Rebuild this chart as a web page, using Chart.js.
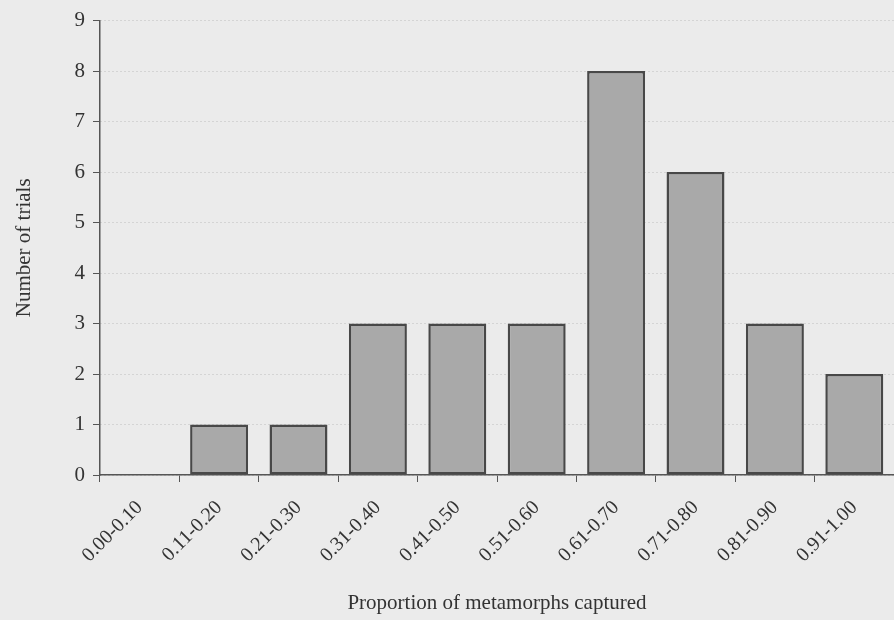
<!DOCTYPE html>
<html>
<head>
<meta charset="utf-8">
<script src="https://cdn.jsdelivr.net/npm/chart.js@4"></script>
<style>
  body { margin: 0; background: #ebebeb; }
  canvas { display: block; }
</style>
</head>
<body>
<canvas id="trials-chart" width="894" height="620"></canvas>
<script>
// Data
const categories = ["0.00-0.10", "0.11-0.20", "0.21-0.30", "0.31-0.40", "0.41-0.50",
  "0.51-0.60", "0.61-0.70", "0.71-0.80", "0.81-0.90", "0.91-1.00"];
const trials = [0, 1, 1, 3, 3, 3, 8, 6, 3, 2];
const yTicks = [0, 1, 2, 3, 4, 5, 6, 7, 8, 9];

const bgPlugin = {
  id: "bg",
  beforeDraw: (chart) => {
    const ctx = chart.ctx;
    ctx.save();
    ctx.fillStyle = "#ebebeb";
    ctx.fillRect(0, 0, chart.width, chart.height);
    ctx.restore();
  },
};

const serif = "'Liberation Serif', 'DejaVu Serif', serif";

const config = {
  type: "bar",
  data: {
    labels: categories,
    datasets: [
      {
        label: "Number of trials",
        data: trials,
        backgroundColor: "#a9a9a9",
        borderColor: "#484848",
        borderWidth: 2.5,
        borderSkipped: false,
        categoryPercentage: 1.0,
        barPercentage: 0.73,
      },
    ],
  },
  options: {
    responsive: false,
    animation: false,
    layout: { padding: { top: 15, right: 0, left: 8, bottom: 4 } },
    plugins: {
      legend: { display: false },
      tooltip: { enabled: false },
    },
    scales: {
      x: {
        grid: {
          offset: true,
          drawOnChartArea: false,
          tickLength: 7,
          tickColor: "#555",
        },
        border: { color: "#555", width: 1.5 },
        ticks: {
          color: "#333",
          font: { family: serif, size: 20 },
          maxRotation: 45,
          minRotation: 45,
          padding: 14,
        },
        title: {
          display: true,
          text: "Proportion of metamorphs captured",
          color: "#333",
          font: { family: serif, size: 21 },
          padding: { top: 4, bottom: 0 },
        },
        afterFit: (scale) => { scale.height = 141; },
      },
      y: {
        min: 0,
        max: 9,
        afterBuildTicks: (scale) => {
          scale.ticks = yTicks.map((v) => ({ value: v }));
        },
        grid: {
          color: "#bdbdbd",
          tickBorderDash: [],
          tickColor: "#555",
          tickLength: 7,
        },
        border: { color: "#555", width: 1.5, dash: [1, 3] },
        ticks: {
          color: "#333",
          font: { family: serif, size: 21 },
          padding: 8,
        },
        title: {
          display: true,
          text: "Number of trials",
          color: "#333",
          font: { family: serif, size: 21 },
          padding: { bottom: 10 },
        },
        afterFit: (scale) => { scale.width = 92; },
      },
    },
  },
  plugins: [bgPlugin],
};

const myChart = new Chart(document.getElementById("trials-chart"), config);
</script>
</body>
</html>
